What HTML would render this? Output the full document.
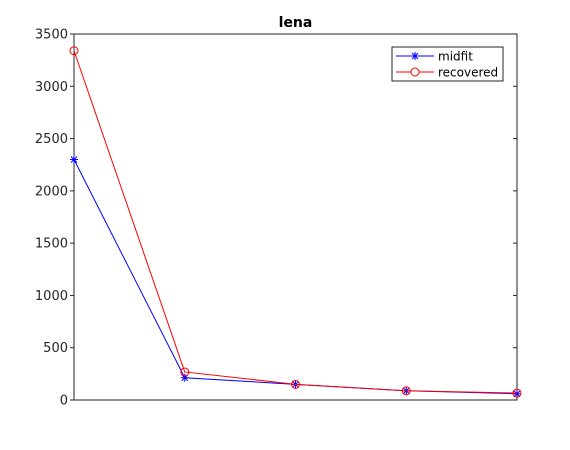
<!DOCTYPE html>
<html><head><meta charset="utf-8"><style>
body{margin:0;background:#fff;}
svg{display:block;font-family:"DejaVu Sans","Liberation Sans",sans-serif;}
</style></head><body>
<svg id="chart" width="570" height="450">
<rect x="0" y="0" width="570" height="450" fill="#fff"/>
<g id="plot"></g>
</svg>
<script>
const categories=[1,2,3,4,5];
const midfit=[2300,213,150,88,60];
const recovered=[3340,268,150,88,66];
const yTicks=[0,500,1000,1500,2000,2500,3000,3500];
const L=74,R=517,T=34,B=400;
const xs=v=>L+(v-1)/(categories.length-1)*(R-L);
const ys=v=>B-v/3500*(B-T);
const ns="http://www.w3.org/2000/svg";
const g=document.getElementById('plot');
function mk(t,a,p){const e=document.createElementNS(ns,t);for(const k in a)e.setAttribute(k,a[k]);(p||g).appendChild(e);return e;}
const box=mk('rect',{x:L,y:T,width:R-L,height:B-T,fill:'#fff',stroke:'#262626','stroke-width':1});


yTicks.forEach(v=>{
 const y=ys(v);
 mk('line',{x1:L,x2:L-4,y1:y,y2:y,stroke:'#262626'});
 mk('line',{x1:R,x2:R-4,y1:y,y2:y,stroke:'#262626'});
 const t=mk('text',{x:L-6,y:y+4.5,'text-anchor':'end','font-size':13,fill:'#262626'});
 t.textContent=v;
 
 
});
function series(data,color,name,marker){
 const pts=data.map((v,i)=>xs(categories[i])+','+ys(v)).join(' ');
 const pl=mk('polyline',{points:pts,fill:'none',stroke:color,'stroke-width':1});
 
 
 data.forEach((v,i)=>{
  const x=xs(categories[i]),y=ys(v);
  let m;
  if(marker==='o'){m=mk('circle',{cx:x,cy:y,r:4,fill:'none',stroke:color});}
  else{m=mk('path',{d:`M${x-4},${y}H${x+4}M${x},${y-4}V${y+4}M${x-3},${y-3}L${x+3},${y+3}M${x-3},${y+3}L${x+3},${y-3}`,stroke:color,fill:'none'});}
  
  
 });
}
series(midfit,'#0000ff','midfit','*');
series(recovered,'#ff0000','recovered','o');
const title=mk('text',{x:(L+R)/2,y:27,'text-anchor':'middle','font-size':14,'font-weight':'bold',fill:'#000'});
title.textContent='lena';


const lg=mk('g',{});


mk('rect',{x:392,y:47,width:111,height:34,fill:'#fff',stroke:'#262626'},lg);
mk('line',{x1:396,x2:434,y1:56,y2:56,stroke:'#0000ff'},lg);
mk('path',{d:'M411,56H419M415,52V60M412,53L418,59M412,59L418,53',stroke:'#0000ff',fill:'none'},lg);
const t1=mk('text',{x:438,y:60.5,'font-size':12,fill:'#000'},lg);t1.textContent='midfit';


mk('line',{x1:396,x2:434,y1:72,y2:72,stroke:'#ff0000'},lg);
mk('circle',{cx:415,cy:72,r:4,fill:'#fff',stroke:'#ff0000'},lg);
const t2=mk('text',{x:438,y:76.5,'font-size':12,fill:'#000'},lg);t2.textContent='recovered';


</script>
</body></html>
